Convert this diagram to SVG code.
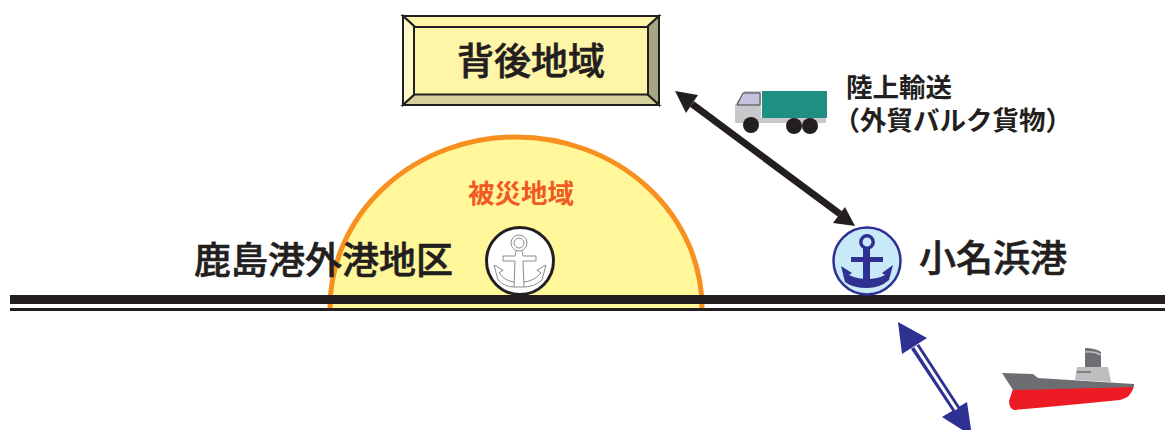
<svg xmlns="http://www.w3.org/2000/svg" width="1165" height="430" viewBox="0 0 1165 430">
<style>
.jp{font-family:"Noto Sans CJK JP","Noto Sans CJK SC",sans-serif;fill:#231f20}
.big{font-size:37px;font-weight:500;stroke:#231f20;stroke-width:.6}
.mid{font-size:26.500px;font-weight:700}
.bev{stroke:#231f20;stroke-width:2;stroke-linejoin:miter}
.blk{fill:#231f20}
.blu{fill:#2e3192}
</style>
<rect width="1165" height="430" fill="#fff"/>
<g id="disaster-area">
<path d="M329 308A187 173 0 0 1 703 308Z" fill="#fff799" stroke="none"/>
<path d="M330 308A186 171 0 0 1 702 308" fill="none" stroke="#f7901e" stroke-width="5"/>
<text x="468" y="203" class="jp" style="fill:#f15a24;font-size:26.500px;font-weight:700">被災地域</text>
</g>
<g id="coast">
<rect x="10" y="295" width="1155" height="9" fill="#231f20"/>
<rect x="10" y="308" width="1155" height="3" fill="#231f20"/>
</g>
<g id="hinterland">
<rect x="402" y="15" width="258" height="91" fill="#fff5a8"/>
<path class="bev" d="M403 16H659L647 27H415Z" fill="#fff5a8"/>
<path class="bev" d="M403 16L415 27V94L403 105Z" fill="#fff9c8"/>
<path class="bev" d="M659 16L647 27V94L659 105Z" fill="#a8a585"/>
<path class="bev" d="M403 105L415 94H647L659 105Z" fill="#d5d09a"/>
<rect class="bev" x="414" y="27" width="234" height="67.500" fill="#fff5a8"/>
<text x="457" y="75" class="jp big">背後地域</text>
</g>
<g id="connectors">
<g id="land-route">
<line x1="692" y1="104" x2="840" y2="214" stroke="#231f20" stroke-width="7"/>
<path class="blk" d="M675 91L698 95L686 113Z"/>
<path class="blk" d="M855 226L845 207L833 223Z"/>
</g>
<g id="sea-route">
<path class="blu" d="M898 322L927 338L902 354Z"/>
<path class="blu" d="M967 402L942 417L972 436Z"/>
<path class="blu" d="M911 349L919 344L960 407L953 412Z"/>
<path d="M915.500 346.500L956.500 409.500" fill="none" stroke="#fff" stroke-width="3"/>
</g>
</g>
<g id="truck">
<path d="M735 105L744 91H761V118H826V123H735Z" fill="#c7c8ca"/>
<path d="M737 105L743 93H760V105Z" fill="#c5c3e0" stroke="#414042" stroke-width="1"/>
<rect x="762" y="91" width="65" height="27" fill="#1f8f82"/>
<circle cx="751" cy="125" r="8" fill="#231f20"/>
<circle cx="794" cy="126" r="8" fill="#231f20"/>
<circle cx="810" cy="126" r="8" fill="#231f20"/>
</g>
<g id="truck-label">
<text x="846" y="97" class="jp mid">陸上輸送</text>
<text x="833.500" y="130" class="jp mid">（外貿バルク貨物）</text>
</g>
<g id="kashima-port">
<text x="194" y="274" class="jp big">鹿島港外港地区</text>
<circle cx="520" cy="261" r="33.500" fill="#fff" stroke="#231f20" stroke-width="3"/>
<g fill="none" stroke="#8a8c8e" stroke-width="1">
<circle cx="519" cy="243" r="8"/>
<circle cx="519" cy="243" r="5"/>
<path d="M516 251L515 256H503V261H515L514 287H524L523 261H536V256H523L522 251"/>
<path d="M494 265L498 280Q505 287 514 287M494 265L503 270L499 273Q505 281 514 282"/>
<path d="M546 265L542 280Q534 287 524 287M546 265L537 270L541 273Q534 281 524 282"/>
</g>
</g>
<g id="onahama-port">
<circle cx="867" cy="261" r="33.500" fill="#c7e9f8" stroke="#2e3192" stroke-width="2.500"/>
<circle cx="867" cy="242" r="6.200" fill="none" stroke="#2e3192" stroke-width="3.500"/>
<rect x="851" y="257" width="32" height="5" fill="#2e3192"/>
<rect x="863" y="248" width="7" height="34" fill="#2e3192"/>
<path d="M841 266L852 273L849 275Q857 279 867 279Q878 279 885 275L882 273L893 265L889 280Q880 288 867 288Q853 288 845 282Z" fill="#2e3192"/>
<text x="919" y="272" class="jp big">小名浜港</text>
</g>
<g id="ship">
<path d="M1013 389L1009 401Q1009 408 1014 410Q1060 406 1120 400Q1131 398 1134 386Z" fill="#ed1c24"/>
<path d="M1002 373L1033 374L1038 378L1134 384V387Q1060 389 1013 390Z" fill="#6d6e71"/>
<path d="M1077 367H1108L1111 382L1075 380Z" fill="#bcbec0"/>
<path d="M1085 348Q1095 348 1101 352V367H1085Z" fill="#6d6e71"/>
<path d="M1085 352Q1094 351 1101 355" fill="none" stroke="#bcbec0" stroke-width="1.500"/>
<path d="M1077 372H1091" stroke="#414042" stroke-width="1"/>
</g>
</svg>
